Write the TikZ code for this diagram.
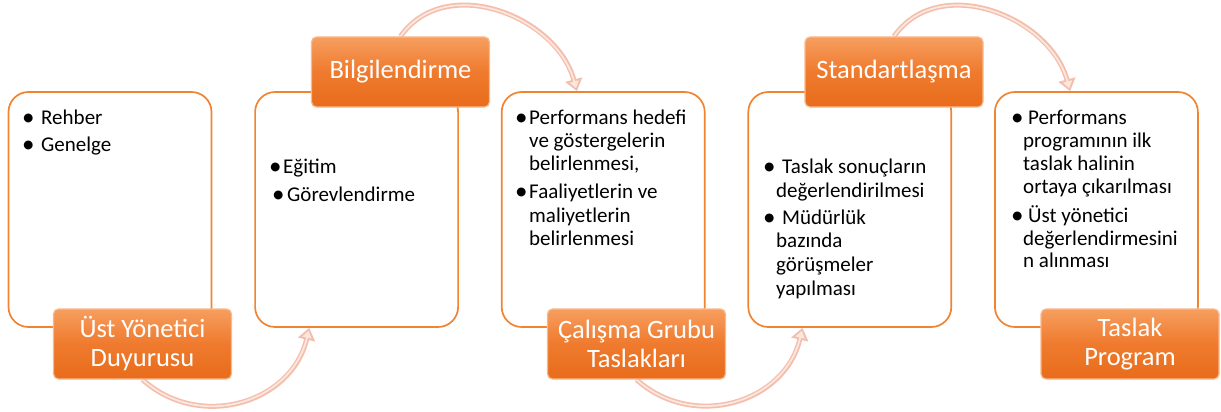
\documentclass[tikz,border=0pt]{standalone}
\usepackage{fontspec}
\setmainfont{Carlito}
\usetikzlibrary{arrows.meta,calc}
\pgfdeclarelayer{bg}
\pgfsetlayers{bg,main}
\definecolor{boxborder}{RGB}{240,132,50}
\definecolor{labtop}{RGB}{246,158,95}
\definecolor{labmid}{RGB}{239,122,45}
\definecolor{labbot}{RGB}{232,108,28}
\definecolor{labedge}{RGB}{248,185,140}
\definecolor{arrowcol}{RGB}{243,190,172}
\definecolor{arrowin}{RGB}{252,230,222}
\tikzset{
  contentbox/.style={draw=boxborder, line width=1.7pt, fill=white, rounded corners=20pt,
    minimum width=203pt, minimum height=235pt, inner sep=0pt},
  labelbox/.style={draw=labedge, line width=1.2pt, rounded corners=5pt,
    top color=labtop, bottom color=labbot, middle color=labmid,
    minimum width=178pt, minimum height=70pt, inner sep=0pt, text=white,
    font=\fontsize{26.5}{29}\selectfont, align=center},
  txt/.style={anchor=base west, inner sep=0pt, font=\fontsize{21}{23.5}\selectfont},
  bul/.style={anchor=base west, inner sep=0pt, font=\fontsize{25}{25}\selectfont},
  flow/.style={line width=5pt, draw=arrowcol, -{Triangle[length=12pt,width=17pt,fill=arrowcol]}},
  flowin/.style={line width=1.8pt, draw=arrowin, shorten >=3pt, -{Triangle[length=7pt,width=9pt,fill=arrowin]}}
}
\begin{document}
\begin{tikzpicture}[x=1pt,y=1pt]
\useasboundingbox (0,0) rectangle (1221,-412);
% content boxes
\node[contentbox] (b1) at (110,-209.5) {};
\node[contentbox] (b2) at (356.6,-209.5) {};
\node[contentbox] (b3) at (603.2,-209.5) {};
\node[contentbox] (b4) at (849.8,-209.5) {};
\node[contentbox] (b5) at (1096.4,-209.5) {};
% label boxes
\node[labelbox] (l1) at (142.5,-344) {Üst Yönetici\\Duyurusu};
\node[labelbox] (l2) at (400.5,-72) {Bilgilendirme};
\node[labelbox] (l3) at (636.5,-344) {Çalışma Grubu\\Taslakları};
\node[labelbox] (l4) at (894,-72) {Standartlaşma};
\node[labelbox] (l5) at (1130,-344) {Taslak\\Program};
% box 1 text
\node[bul] (t1a) at (22,-125) {•};
\node[txt] (t1b) at (41,-124) {Rehber};
\node[bul] (t1c) at (22,-152) {•};
\node[txt] (t1d) at (41,-151) {Genelge};
% box 2 text
\node[bul] (t2a) at (269,-174) {•};
\node[txt] (t2b) at (283,-173) {Eğitim};
\node[bul] (t2c) at (272,-202) {•};
\node[txt] (t2d) at (287,-201) {Görevlendirme};
% box 3 text
\node[bul] (t3a) at (515,-125) {•};
\node[txt] (t3b) at (529,-124) {Performans hedefi};
\node[txt] (t3c) at (529,-147) {ve göstergelerin};
\node[txt] (t3d) at (529,-170) {belirlenmesi,};
\node[bul] (t3e) at (515,-199) {•};
\node[txt] (t3f) at (529,-198) {Faaliyetlerin ve};
\node[txt] (t3g) at (529,-222) {maliyetlerin};
\node[txt] (t3h) at (529,-245) {belirlenmesi};
% box 4 text
\node[bul] (t4a) at (763,-174) {•};
\node[txt] (t4b) at (782,-173) {Taslak sonuçların};
\node[txt] (t4c) at (776,-197) {değerlendirilmesi};
\node[bul] (t4d) at (763,-225) {•};
\node[txt] (t4e) at (782,-224) {Müdürlük};
\node[txt] (t4f) at (776,-247) {bazında};
\node[txt] (t4g) at (776,-271) {görüşmeler};
\node[txt] (t4h) at (776,-295) {yapılması};
% box 5 text
\node[bul] (t5a) at (1011,-125) {•};
\node[txt] (t5b) at (1028,-124) {Performans};
\node[txt] (t5c) at (1023,-147) {programının ilk};
\node[txt] (t5d) at (1023,-170) {taslak halinin};
\node[txt] (t5e) at (1023,-193) {ortaya çıkarılması};
\node[bul] (t5f) at (1011,-223) {•};
\node[txt] (t5g) at (1028,-222) {Üst yönetici};
\node[txt] (t5h) at (1023,-245) {değerlendirmesini};
\node[txt] (t5i) at (1023,-267) {n alınması};
% connectors
\begin{pgfonlayer}{bg}
\draw[flow] (l1.south) to[out=-42,in=-103,looseness=1.13] ([xshift=55pt]b2.south west);
\draw[flowin] (l1.south) to[out=-42,in=-103,looseness=1.13] ([xshift=55pt]b2.south west);
\draw[flow] (l2.north) to[out=55,in=105,looseness=1.08] ([xshift=76pt]b3.north west);
\draw[flowin] (l2.north) to[out=55,in=105,looseness=1.08] ([xshift=76pt]b3.north west);
\draw[flow] (l3.south) to[out=-42,in=-103,looseness=1.13] ([xshift=55pt]b4.south west);
\draw[flowin] (l3.south) to[out=-42,in=-103,looseness=1.13] ([xshift=55pt]b4.south west);
\draw[flow] (l4.north) to[out=55,in=105,looseness=1.08] ([xshift=76pt]b5.north west);
\draw[flowin] (l4.north) to[out=55,in=105,looseness=1.08] ([xshift=76pt]b5.north west);
\end{pgfonlayer}
\end{tikzpicture}
\end{document}
